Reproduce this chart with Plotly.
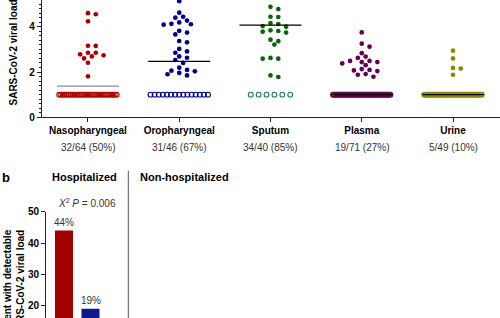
import numpy as np
import plotly.graph_objects as go

# ---------------- data ----------------
categories = ["Nasopharyngeal", "Oropharyngeal", "Sputum", "Plasma", "Urine"]
detected_counts = [32, 31, 34, 19, 5]
total_counts = [64, 46, 40, 71, 49]

# detected values visible in the panel (log10 copies)
naso_values = [4.55, 4.60, 4.24, 3.15, 3.16, 2.78, 2.85, 2.74, 2.69, 2.85, 2.60, 2.41, 1.81]
oro_values = [5.13, 4.62, 4.44, 4.40, 4.11, 4.27, 4.13, 4.19, 4.09, 3.66, 3.82, 3.74, 3.31, 3.37,
              2.91, 3.02, 2.85, 2.69, 2.53, 2.63, 2.40, 2.06, 1.85, 2.03, 2.09, 1.90, 2.19, 1.96]
sputum_values = [4.78, 4.88, 4.43, 4.44, 4.16, 4.03, 4.00, 4.12, 3.74, 3.84, 3.78, 3.81, 3.43, 3.21,
                 3.36, 2.59, 2.62, 2.59, 1.78, 1.85]
plasma_values = [3.75, 3.12, 3.25, 2.83, 2.49, 2.30, 2.68, 2.44, 2.49, 2.62, 2.38, 2.44, 2.04, 1.79,
                 2.13, 1.91, 2.09, 1.88, 2.07]
urine_values = [2.94, 2.60, 2.15, 2.18, 1.88]
medians = [1.38, 2.47, 4.07, 1.0, 1.0]
undetected_level = 1.0

bar_groups = ["Hospitalized A", "Hospitalized B"]
bar_values = [44, 19]
p_value_text = "0.006"

# ---------------- styles ----------------
FONT = "Liberation Sans, Arial, sans-serif"
W, H = 500, 318
dot_colors = ["#aa0000", "#00008c", "#0a640a", "#64004e", "#8a8a00"]
open_colors = ["#aa0000", "#00008c", "#1b7a5a", "#64004e", "#8a8a00"]
median_colors = ["#8c8c8c", "#000000", "#000000", "#000000", "#000000"]
bar_colors = ["#a30000", "#0b1a8c"]

top_dom_x = [41.7 / W, 1.0]
top_xrange = [-0.507, 4.515]
top_dom_y = [1 - 117.3 / H, 1.0]
top_yrange = [0, 5.18]
sx = W * (top_dom_x[1] - top_dom_x[0]) / (top_xrange[1] - top_xrange[0])
sy = H * (top_dom_y[1] - top_dom_y[0]) / (top_yrange[1] - top_yrange[0])


def swarm(values, step=3.9, mind=5.0):
    order = sorted(range(len(values)), key=lambda i: -values[i])
    placed = []
    offs = [0.0] * len(values)
    ks = [0]
    for k in range(1, 15):
        ks += [k, -k]
    for i in order:
        y = values[i] * sy
        xx = 0
        for k in ks:
            xx = k * step
            if all((xx - px) ** 2 + (y - py) ** 2 >= mind ** 2 for px, py in placed):
                break
        placed.append((xx, y))
        offs[i] = xx / sx
    return offs


fig = go.Figure()
value_lists = [naso_values, oro_values, sputum_values, plasma_values, urine_values]
for i, vals in enumerate(value_lists):
    n_neg = total_counts[i] - detected_counts[i]
    pitch = min(7.9, 57.5 / max(n_neg - 1, 1))
    neg_x = i + (np.arange(n_neg) - (n_neg - 1) / 2) * pitch / sx
    fig.add_trace(go.Scatter(
        x=neg_x, y=[undetected_level] * n_neg, mode="markers",
        marker=dict(symbol="circle-open", size=4.8, color=open_colors[i], line=dict(width=1.1, color=open_colors[i])),
        showlegend=False, xaxis="x", yaxis="y"))
    offs = swarm(vals)
    fig.add_trace(go.Scatter(
        x=[i + o for o in offs], y=vals, mode="markers",
        marker=dict(symbol="circle", size=4.7, color=dot_colors[i]),
        showlegend=False, xaxis="x", yaxis="y"))
    hw = 31 / sx
    fig.add_trace(go.Scatter(
        x=[i - hw, i + hw], y=[medians[i]] * 2, mode="lines",
        line=dict(color=median_colors[i], width=1.2),
        showlegend=False, xaxis="x", yaxis="y"))

# bottom bars
bar_x = list(range(len(bar_values)))
fig.add_trace(go.Bar(x=bar_x, y=bar_values, width=0.68, marker=dict(color=bar_colors, line=dict(width=0)),
                     showlegend=False, xaxis="x2", yaxis="y2"))

annotations = []
for i in range(len(categories)):
    pct = round(100 * detected_counts[i] / total_counts[i])
    annotations.append(dict(text=f"{detected_counts[i]}/{total_counts[i]} ({pct}%)", x=i, xref="x",
                            y=1 - 147 / H, yref="paper", showarrow=False,
                            font=dict(family=FONT, size=10, color="#333")))
for bx, bv in zip(bar_x, bar_values):
    annotations.append(dict(text=f"{bv}%", x=bx, xref="x2", y=bv, yref="y2", yanchor="bottom", yshift=1,
                            showarrow=False, font=dict(family=FONT, size=10, color="#333")))
annotations += [
    dict(text="<b>SARS-CoV-2 viral load (log10 copies/mL)</b>", textangle=-90, x=13 / W, xref="paper",
         y=1 - 107.5 / H, yref="paper", xanchor="center", yanchor="bottom", showarrow=False,
         font=dict(family=FONT, size=10, color="#000")),
    dict(text="<b>Percent with detectable<br>SARS-CoV-2 viral load</b>", textangle=-90, x=13.5 / W, xref="paper",
         y=1 - 286 / H, yref="paper", xanchor="center", yanchor="middle", align="right", showarrow=False,
         font=dict(family=FONT, size=10, color="#000")),
    dict(text="<b>b</b>", x=0, xref="paper", y=1 - 177 / H, yref="paper", xanchor="left", yanchor="middle",
         showarrow=False, font=dict(family=FONT, size=13, color="#000")),
    dict(text="<b>Hospitalized</b>", x=84.5 / W, xref="paper", y=1 - 176.7 / H, yref="paper",
         xanchor="center", yanchor="middle", showarrow=False, font=dict(family=FONT, size=11, color="#000")),
    dict(text="<b>Non-hospitalized</b>", x=137.7 / W, xref="paper", y=1 - 176.7 / H, yref="paper",
         xanchor="left", yanchor="middle", showarrow=False, font=dict(family=FONT, size=11, color="#000")),
    dict(text=f"<i>X</i><sup>2</sup> <i>P</i> = {p_value_text}", x=118 / W, xref="paper", y=1 - 203 / H,
         yref="paper", xanchor="right", yanchor="middle", showarrow=False,
         font=dict(family=FONT, size=10, color="#333")),
]

axis_col = "#222"
fig.update_layout(
    width=W, height=H, margin=dict(l=0, r=0, t=0, b=0),
    paper_bgcolor="white", plot_bgcolor="white", template="none",
    font=dict(family=FONT, size=10, color="#000"),
    xaxis=dict(domain=top_dom_x, range=top_xrange, tickvals=list(range(len(categories))),
               ticktext=[f"<b>{c}</b>" for c in categories], ticks="outside", ticklen=4, tickcolor=axis_col,
               showline=True, linecolor=axis_col, linewidth=1, showgrid=False, zeroline=False,
               tickfont=dict(family=FONT, size=10, color="#000"), anchor="y"),
    yaxis=dict(domain=top_dom_y, range=top_yrange, tickvals=[0, 2, 4], ticks="outside", ticklen=4,
               tickcolor=axis_col, showline=True, linecolor=axis_col, linewidth=1, showgrid=False,
               zeroline=False, tickfont=dict(family=FONT, size=10, color="#000", weight="bold"),
               minor=dict(dtick=0.2, tick0=0, ticks="outside", ticklen=2, tickcolor=axis_col, showgrid=False),
               anchor="x"),
    xaxis2=dict(domain=[46 / W, 125 / W], range=[-0.679, 2.302], visible=False, anchor="y2"),
    yaxis2=dict(domain=[0, 1 - 211.7 / H], range=[16.07, 50], tickvals=[20, 30, 40, 50], ticks="outside",
                ticklen=4, tickcolor=axis_col, showline=True, linecolor=axis_col, linewidth=1, showgrid=False,
                zeroline=False, tickfont=dict(family=FONT, size=10, color="#000", weight="bold"), anchor="x2"),
    annotations=annotations,
    shapes=[dict(type="line", xref="paper", yref="paper", x0=128.3 / W, x1=128.3 / W, y0=0, y1=1 - 170.7 / H,
                 line=dict(color="#555", width=1))],
)
fig.update_xaxes(fixedrange=True)
fig.write_html("out.html", config={"displayModeBar": False},
               post_script="document.body.style.margin='0px';document.body.style.overflow='hidden';")
